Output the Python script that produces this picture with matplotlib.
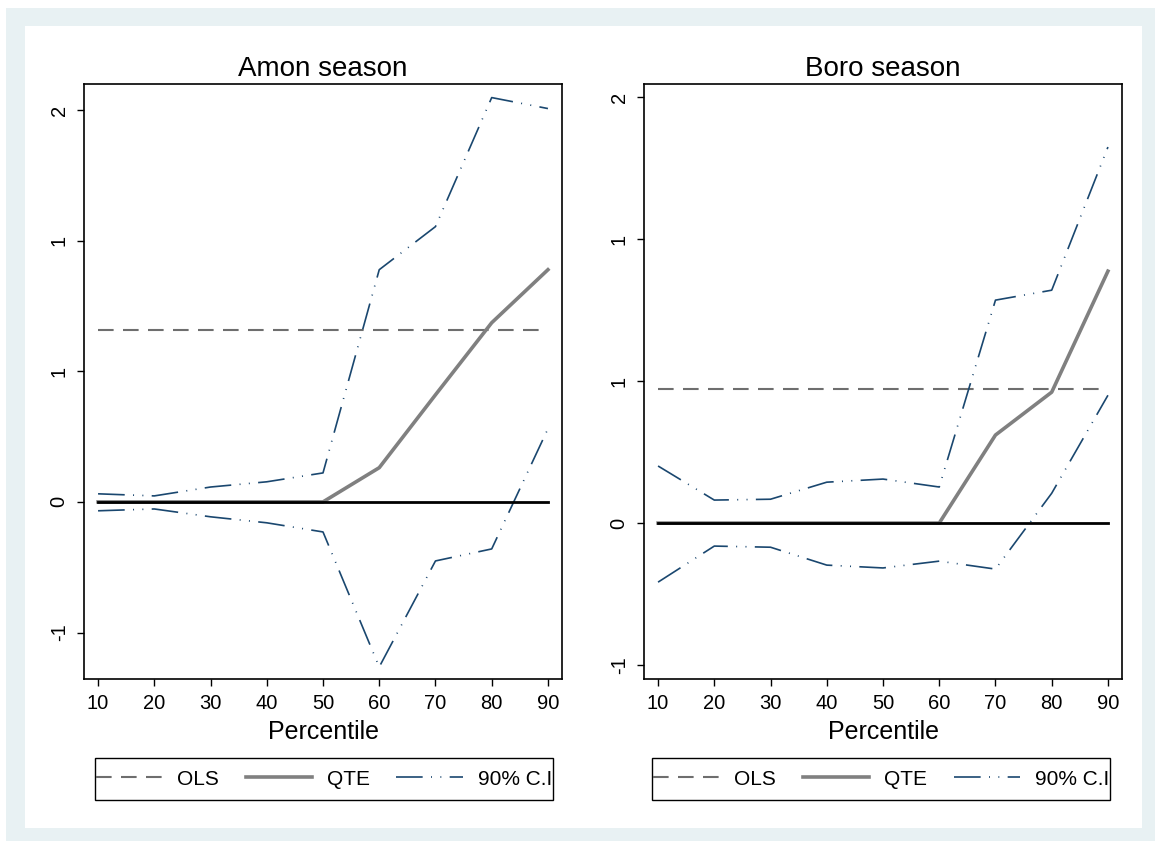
import matplotlib
matplotlib.use("Agg")
import matplotlib.pyplot as plt
from matplotlib.patches import Rectangle
import numpy as np

plt.rcParams['font.family'] = ['Liberation Sans', 'DejaVu Sans']

percentile = [10, 20, 30, 40, 50, 60, 70, 80, 90]

# Amon season
amon_ols = 0.66
amon_qte = [0, 0, 0, 0, 0, 0.131, 0.41, 0.686, 0.889]
amon_ci_hi = [0.031, 0.023, 0.057, 0.077, 0.111, 0.889, 1.054, 1.548, 1.506]
amon_ci_lo = [-0.034, -0.027, -0.057, -0.08, -0.115, -0.632, -0.226, -0.18, 0.28]

# Boro season
boro_ols = 0.472
boro_qte = [0, 0, 0, 0, 0, 0, 0.31, 0.461, 0.887]
boro_ci_hi = [0.201, 0.081, 0.084, 0.144, 0.155, 0.127, 0.785, 0.82, 1.324]
boro_ci_lo = [-0.208, -0.081, -0.085, -0.148, -0.158, -0.134, -0.162, 0.105, 0.45]

ytick_vals = [-0.5, 0, 0.5, 1, 1.5]
ytick_labels = ['-1', '0', '1', '1', '2']

NAVY = '#1a476f'
W, H = 1155, 841

fig = plt.figure(figsize=(W / 100, H / 100), dpi=100)
fig.patch.set_facecolor('white')
fig.patches.append(Rectangle((6 / W, 0), 1 - 6 / W, 1 - 8 / H, transform=fig.transFigure,
                             facecolor='#e8f1f3', edgecolor='none', zorder=-10))
fig.patches.append(Rectangle((25 / W, 1 - 828 / H), (1142 - 25) / W, (828 - 26) / H,
                             transform=fig.transFigure, facecolor='white',
                             edgecolor='none', zorder=-9))


def panel(left, title, ols, qte, hi, lo, ylim, leg_x0):
    ax = fig.add_axes([left / W, 1 - 679 / H, 478 / W, 595 / H])
    x = np.array(percentile)
    ax.plot(x, [ols] * len(x), color='#6e6e6e', lw=1.5, dashes=(7.5, 4.5), label='OLS')
    ax.plot(x, qte, color='#808080', lw=2.6, label='QTE')
    ax.plot(x, hi, color=NAVY, lw=1.2, dashes=(16, 5, 0.6, 5, 0.6, 5), label='90% C.I')
    ax.plot(x, lo, color=NAVY, lw=1.2, dashes=(16, 5, 0.6, 5, 0.6, 5))
    ax.plot(x, np.zeros(len(x)), color='black', lw=2.0, zorder=5)
    ax.set_xlim(7.5, 92.5)
    ax.set_ylim(*ylim)
    ax.set_xticks(percentile)
    ax.set_yticks(ytick_vals)
    ax.set_yticklabels(ytick_labels, rotation=90, va='center')
    ax.tick_params(labelsize=14.5, length=5, width=1, pad=6, color='black')
    ax.set_xlabel('Percentile', fontsize=18, labelpad=5)
    ax.set_title(title, fontsize=20, pad=6)
    for s in ax.spines.values():
        s.set_linewidth(1.2)

    # legend box below the panel
    box = (leg_x0, -0.2034, 0.958, 0.0706)
    ax.add_patch(Rectangle(box[:2], box[2], box[3], transform=ax.transAxes,
                           facecolor='white', edgecolor='black', lw=1.0,
                           clip_on=False))
    ax.legend(loc='center', bbox_to_anchor=box, mode='expand', ncol=3,
              fontsize=15, frameon=False, handlelength=3.2,
              handletextpad=0.7, borderaxespad=0, borderpad=0.05)
    return ax


panel(84, 'Amon season', amon_ols, amon_qte, amon_ci_hi, amon_ci_lo, (-0.678, 1.60), 0.023)
panel(644, 'Boro season', boro_ols, boro_qte, boro_ci_hi, boro_ci_lo, (-0.549, 1.546), 0.017)

fig.savefig('out.png', dpi=100)
